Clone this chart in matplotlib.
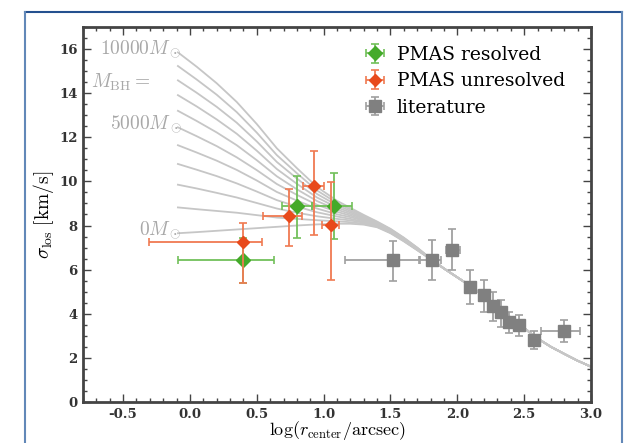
import matplotlib
matplotlib.use("Agg")
import matplotlib.pyplot as plt
from matplotlib.lines import Line2D
from matplotlib.ticker import MultipleLocator

# model curves: sigma_los for M_BH = 0, 1000, ..., 10000 Msun
mbh_values = [0, 1000, 2000, 3000, 4000, 5000, 6000, 7000, 8000, 9000, 10000]
model_x = [-0.09, 0.05, 0.2, 0.35, 0.5, 0.65, 0.8, 0.95, 1.1, 1.2, 1.3, 1.4, 1.5, 1.6, 1.7, 1.8]
model_sigma = [
    [7.65, 8.82, 9.85, 10.79, 11.64, 12.45, 13.20, 13.91, 14.58, 15.23, 15.85],
    [7.70, 8.74, 9.68, 10.53, 11.31, 12.05, 12.74, 13.40, 14.02, 14.62, 15.20],
    [7.76, 8.66, 9.48, 10.24, 10.94, 11.60, 12.22, 12.81, 13.38, 13.93, 14.45],
    [7.82, 8.58, 9.27, 9.91, 10.52, 11.09, 11.64, 12.16, 12.66, 13.14, 13.60],
    [7.88, 8.47, 9.02, 9.54, 10.04, 10.51, 10.96, 11.39, 11.81, 12.21, 12.60],
    [7.94, 8.36, 8.77, 9.15, 9.52, 9.88, 10.23, 10.56, 10.88, 11.19, 11.50],
    [8.00, 8.30, 8.58, 8.86, 9.13, 9.39, 9.64, 9.89, 10.13, 10.37, 10.60],
    [8.05, 8.24, 8.42, 8.60, 8.77, 8.94, 9.11, 9.27, 9.43, 9.59, 9.75],
    [8.08, 8.19, 8.30, 8.41, 8.51, 8.62, 8.72, 8.82, 8.92, 9.02, 9.12],
    [8.08, 8.15, 8.23, 8.30, 8.38, 8.45, 8.52, 8.59, 8.66, 8.73, 8.80],
    [8.04, 8.08, 8.13, 8.17, 8.22, 8.26, 8.31, 8.35, 8.39, 8.44, 8.48],
    [7.92, 7.95, 7.97, 8.00, 8.02, 8.05, 8.08, 8.10, 8.13, 8.15, 8.18],
    [7.65, 7.67, 7.69, 7.71, 7.73, 7.75, 7.77, 7.79, 7.81, 7.83, 7.85],
    [7.28, 7.30, 7.31, 7.33, 7.35, 7.37, 7.38, 7.40, 7.42, 7.43, 7.45],
    [6.88, 6.89, 6.90, 6.92, 6.93, 6.94, 6.95, 6.96, 6.98, 6.99, 7.00],
    [6.47, 6.47, 6.48, 6.48, 6.48, 6.49, 6.49, 6.49, 6.49, 6.50, 6.50],
]
# outer part, where all models coincide
tail_x = [1.9, 2.0, 2.1, 2.2, 2.3, 2.4, 2.5, 2.6, 2.7, 2.8, 2.9, 3.0]
tail_sigma = [6.05, 5.65, 5.25, 4.80, 4.30, 3.82, 3.35, 2.88, 2.50, 2.18, 1.87, 1.60]

# PMAS resolved
res_x = [0.40, 0.80, 1.075]
res_y = [6.45, 8.88, 8.88]
res_xlo = [0.49, 0.11, 0.165]
res_xhi = [0.23, 0.11, 0.135]
res_ylo = [1.05, 1.44, 1.48]
res_yhi = [1.00, 1.36, 1.48]

# PMAS unresolved
unres_x = [0.40, 0.74, 0.926, 1.057]
unres_y = [7.23, 8.45, 9.79, 8.01]
unres_xlo = [0.71, 0.19, 0.08, 0.07]
unres_xhi = [0.14, 0.10, 0.075, 0.06]
unres_ylo = [1.83, 1.39, 2.20, 2.48]
unres_yhi = [0.90, 1.19, 1.59, 1.94]

# literature
lit_x = [1.517, 1.808, 1.958, 2.092, 2.20, 2.27, 2.33, 2.39, 2.465, 2.572, 2.80]
lit_y = [6.42, 6.45, 6.91, 5.20, 4.83, 4.33, 4.08, 3.62, 3.47, 2.79, 3.23]
lit_xlo = [0.36, 0.09, 0.04, 0.03, 0.03, 0.03, 0.03, 0.03, 0.03, 0.03, 0.175]
lit_xhi = [0.20, 0.07, 0.06, 0.03, 0.03, 0.03, 0.03, 0.03, 0.03, 0.03, 0.12]
lit_ylo = [0.95, 0.90, 0.91, 0.75, 0.73, 0.68, 0.66, 0.50, 0.50, 0.38, 0.49]
lit_yhi = [0.90, 0.88, 0.91, 0.80, 0.72, 0.67, 0.56, 0.48, 0.48, 0.41, 0.47]

labelled = {10000: r"$10000M_\odot$", 5000: r"$5000M_\odot$", 0: r"$0M_\odot$"}

plt.rcParams["mathtext.fontset"] = "cm"
plt.rcParams["font.family"] = "DejaVu Serif"

fig = plt.figure(figsize=(6.37, 4.43), dpi=100)
ax = fig.add_axes([0.1303, 0.0926, 0.7975, 0.8465])

curve_color = "#c6c6c6"
for i, mbh in enumerate(mbh_values):
    ys = [row[i] for row in model_sigma] + tail_sigma
    ax.plot(model_x + tail_x, ys, color=curve_color, lw=1.3, zorder=1,
            solid_joinstyle="round")
    if mbh in labelled:
        ax.text(model_x[0] + 0.03, model_sigma[0][i] - 0.08, labelled[mbh],
                ha="right", va="baseline", fontsize=14, color="#a8a8a8", zorder=2)
ax.text(-0.74, 14.5, r"$M_{\rm BH} =$", ha="left", va="center",
        fontsize=14, color="#a8a8a8")

green = "#44aa2a"
orange = "#e84a1c"
gray = "#808080"

ax.errorbar(lit_x, lit_y, xerr=[lit_xlo, lit_xhi], yerr=[lit_ylo, lit_yhi],
            fmt="s", color=gray, ecolor="#a0a0a0", ms=8, elinewidth=1.3,
            capsize=3, capthick=1.2, zorder=3, label="literature")
ax.errorbar(res_x, res_y, xerr=[res_xlo, res_xhi], yerr=[res_ylo, res_yhi],
            fmt="D", color=green, ecolor="#72c05a", ms=7.5, elinewidth=1.3,
            capsize=3, capthick=1.2, zorder=4, label="PMAS resolved")
ax.errorbar(unres_x, unres_y, xerr=[unres_xlo, unres_xhi], yerr=[unres_ylo, unres_yhi],
            fmt="D", color=orange, ecolor="#f07a52", ms=6.5, elinewidth=1.3,
            capsize=3, capthick=1.2, zorder=5, label="PMAS unresolved")

ax.set_xlim(-0.8, 3.0)
ax.set_ylim(0, 17)
ax.xaxis.set_minor_locator(MultipleLocator(0.1))
ax.yaxis.set_major_locator(MultipleLocator(2))
ax.yaxis.set_minor_locator(MultipleLocator(0.5))
ax.set_xticks([-0.5, 0.0, 0.5, 1.0, 1.5, 2.0, 2.5, 3.0])
ax.set_xticklabels(["-0.5", "0.0", "0.5", "1.0", "1.5", "2.0", "2.5", "3.0"])
ax.tick_params(which="both", direction="in", top=True, right=True,
               color="#444444", width=1.0)
ax.tick_params(which="major", length=6, labelsize=9.5, labelcolor="#333333", pad=4)
ax.tick_params(which="minor", length=3)
for lbl in ax.get_xticklabels() + ax.get_yticklabels():
    lbl.set_fontweight("bold")
for sp in ax.spines.values():
    sp.set_linewidth(2.0)
    sp.set_color("#444444")

ax.set_xlabel(r"$\log(r_{\rm center}/{\rm arcsec})$", fontsize=13, labelpad=-1)
ax.set_ylabel(r"$\sigma_{\rm los}\ [{\rm km/s}]$", fontsize=14, labelpad=2)

handles, labels = ax.get_legend_handles_labels()
order = [labels.index(n) for n in ("PMAS resolved", "PMAS unresolved", "literature")]
ax.legend([handles[k] for k in order], [labels[k] for k in order],
          loc="upper right", frameon=False, fontsize=13.5, handlelength=1.1,
          handletextpad=0.6, labelspacing=0.45, borderaxespad=0.6,
          bbox_to_anchor=(0.985, 1.0))

# frame around the whole panel
frame_top = Line2D([25 / 637, 622 / 637], [1 - 12 / 443, 1 - 12 / 443],
                   transform=fig.transFigure, color="#24508f", lw=1.5)
frame_left = Line2D([25 / 637, 25 / 637], [0, 1 - 12 / 443],
                    transform=fig.transFigure, color="#6288b8", lw=1.5)
frame_right = Line2D([622 / 637, 622 / 637], [0, 1 - 12 / 443],
                     transform=fig.transFigure, color="#6288b8", lw=1.5)
fig.lines.extend([frame_top, frame_left, frame_right])

fig.savefig("out.png", dpi=100)
